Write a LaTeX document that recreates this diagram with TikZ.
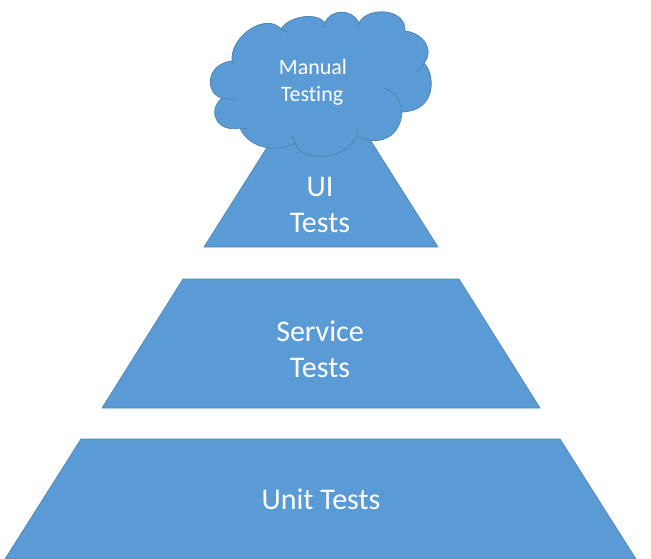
\documentclass[tikz,border=0pt]{standalone}
\usepackage{fontspec}
\setmainfont{Carlito}[Ligatures=NoCommon]
\definecolor{blfill}{HTML}{5B9BD5}
\definecolor{blline}{HTML}{4F84B5}
\tikzset{
  tier/.style={fill=blfill,draw=blline,line width=0.5pt,line join=round},
  cloudline/.style={draw=blline,line width=0.6pt},
  biglabel/.style={text=white,font=\fontsize{22.5}{26}\selectfont,inner sep=0pt,anchor=base},
  smalllabel/.style={text=white,font=\fontsize{16.5}{20}\selectfont,inner sep=0pt,anchor=base}
}
\begin{document}
\begin{tikzpicture}[x=0.75pt,y=-0.75pt]
\useasboundingbox (0,0) rectangle (651,558);
\begin{scope}
\clip (0,0) rectangle (651,558);
% tiers
\draw[tier] (278,130) -- (364,130) -- (438,247) -- (204,247) -- cycle;
\draw[tier] (183,279) -- (459,279) -- (540,408) -- (102,408) -- cycle;
\draw[tier] (81,439) -- (560,439) -- (636,559) -- (5,559) -- cycle;
\end{scope}
% cloud outline
\draw[tier,line width=0.6pt]
  (232,61) .. controls (230,36) and (266,12) .. (281,29)
  .. controls (288,17) and (316,11) .. (325,23)
  .. controls (330,9) and (352,8) .. (359,23)
  .. controls (366,7) and (406,7) .. (405,31)
  .. controls (423,33) and (435,50) .. (424,63)
  .. controls (436,76) and (436,111) .. (402,112)
  .. controls (400,142) and (372,146) .. (357,135)
  .. controls (348,160) and (302,164) .. (295,143)
  .. controls (282,152) and (250,151) .. (240,128)
  .. controls (218,133) and (206,112) .. (222,98)
  .. controls (205,94) and (205,64) .. (232,61) -- cycle;
% cloud inner arcs
\draw[cloudline] (384,88) .. controls (394,91) and (402,101) .. (402,112);
\draw[cloudline] (357,135) .. controls (357,132) and (357,130) .. (357,127);
\draw[cloudline] (292,135) .. controls (292,138) and (294,141) .. (295,143);
\draw[cloudline] (240,128) .. controls (242,128) and (244,128) .. (247,128);
\draw[cloudline] (222,98) .. controls (226,99) and (231,99) .. (235,99);
\draw[cloudline] (232,61) .. controls (232,62) and (232,63) .. (232,64);
\draw[cloudline] (281,29) .. controls (284,30) and (287,32) .. (289,33);
\draw[cloudline] (325,23) .. controls (325,25) and (324,26) .. (323,28);
\draw[cloudline] (359,23) .. controls (358,25) and (358,26) .. (357,27);
\draw[cloudline] (405,31) .. controls (405,32) and (405,33) .. (404,34);
\draw[cloudline] (424,63) .. controls (422,67) and (420,70) .. (417,72);
% labels
\node[smalllabel] (manual) at (313,74) {Manual};
\node[smalllabel] (testing) at (312,101) {Testing};
\node[biglabel] (ui) at (320,196) {UI};
\node[biglabel] (uit) at (320,232) {Tests};
\node[biglabel] (service) at (320,341) {Service};
\node[biglabel] (servicet) at (320,377) {Tests};
\node[biglabel] (unit) at (321,509) {Unit Tests};
\end{tikzpicture}
\end{document}
